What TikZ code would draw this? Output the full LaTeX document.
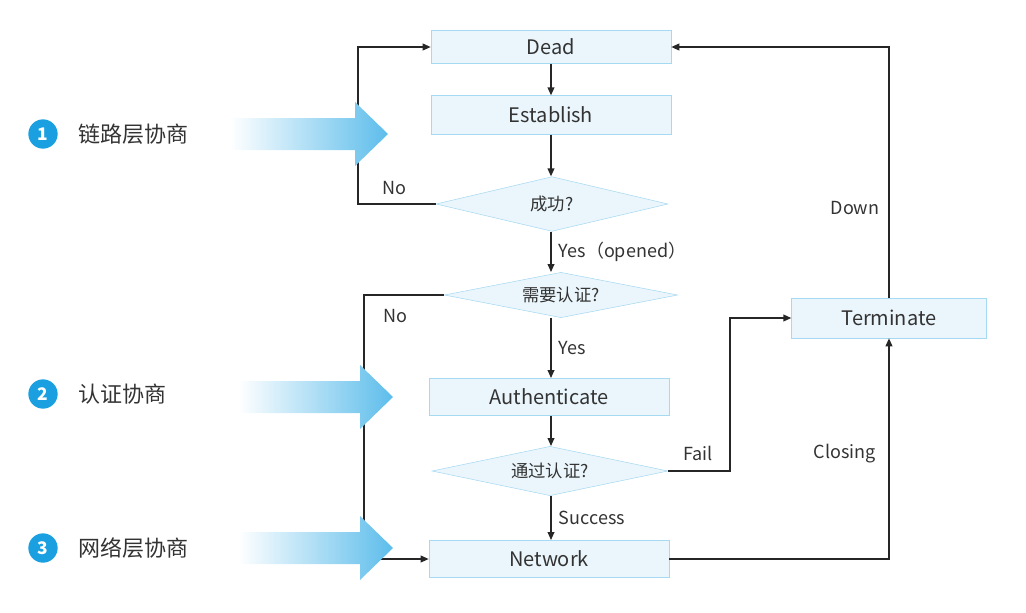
\documentclass[tikz,border=0pt]{standalone}
\usepackage{fontspec}
\setmainfont{Noto Sans CJK SC}
\usetikzlibrary{shapes.geometric,arrows.meta}
\definecolor{boxfill}{HTML}{EAF6FC}
\definecolor{boxline}{HTML}{A6D9F2}
\definecolor{arrblue}{HTML}{5DBDEB}
\definecolor{numblue}{HTML}{1AA0E0}
\definecolor{txt}{HTML}{333333}
\begin{document}
\begin{tikzpicture}[x=0.75pt,y=-0.75pt,
  box/.style={draw=boxline,fill=boxfill,minimum width=180pt,text=txt,font=\fontsize{15}{15}\selectfont},
  dia/.style={diamond,draw=boxline,fill=boxfill,aspect=5,inner sep=1pt,text=txt,font=\fontsize{13}{13}\selectfont},
  con/.style={draw=black!85,line width=1.2pt},
  arr/.style={con,-{Triangle[length=6pt,width=5pt]}},
  lbl/.style={text=txt,font=\fontsize{13.5}{13.5}\selectfont},
  big/.style={left color=white,right color=arrblue,draw=none},
  num/.style={circle,fill=numblue,text=white,minimum size=22pt,inner sep=0pt,font=\bfseries\fontsize{13}{13}\selectfont},
  side/.style={anchor=west,text=txt,font=\fontsize{16.5}{16.5}\selectfont}]
\useasboundingbox (0,0) rectangle (1026,612);
\node[num] (n1) at (43,134) {1};
\node[num] (n2) at (43,394) {2};
\node[num] (n3) at (43,548) {3};
\node[side] (t1) at (74,134) {链路层协商};
\node[side] (t2) at (74,394) {认证协商};
\node[side] (t3) at (74,548) {网络层协商};
% nodes
\node[box,minimum height=25pt] (dead) at (551,47) {Dead};
\node[box,minimum height=29pt] (est) at (551,115) {Establish};
\node[dia,minimum width=174pt,minimum height=41pt] (d1) at (552,204) {成功?};
\node[dia,minimum width=175pt,minimum height=34pt] (d2) at (561,295) {需要认证?};
\node[box,minimum height=28pt] (auth) at (549,397) {Authenticate};
\node[dia,minimum width=177pt,minimum height=37pt] (d3) at (550,471) {通过认证?};
\node[box,minimum height=28pt] (net) at (549,559) {Network};
\node[box,minimum width=146pt,minimum height=30pt] (term) at (889,318) {Terminate};
% vertical flow
\draw[arr] (dead) -- (est);
\draw[arr] (est.south -| dead) -- (d1.north -| dead);
\draw[arr] (d1.south -| dead) -- node[lbl,right,xshift=2pt]{Yes（opened）} (d2.north -| dead);
\draw[arr] (d2.south -| dead) -- node[lbl,right,xshift=2pt]{Yes} (auth.north -| dead);
\draw[arr] (auth.south -| dead) -- (d3.north -| dead);
\draw[arr] (d3.south -| dead) -- node[lbl,right,xshift=2pt]{Success} (net.north -| dead);
% loops
\coordinate (a1) at (358,204);
\coordinate (a2) at (358,47);
\draw[arr] (d1.west) -- (a1) -- (a2) -- (dead.west);
\node[lbl] (no1) at (394,188) {No};
\coordinate (b1) at (364,295);
\coordinate (b2) at (364,559);
\draw[arr] (d2.west) -- (b1) -- (b2) -- (net.west);
\node[lbl] (no2) at (395,316) {No};
\coordinate (c1) at (730,471);
\coordinate (c2) at (730,318);
\draw[arr] (d3.east) -- (c1) -- (c2) -- (term.west);
\node[lbl] (fail) at (698,453) {Fail};
\coordinate (e1) at (889,559);
\draw[arr] (net.east) -- (e1) -- (term.south);
\node[lbl] (clo) at (845,454) {Closing};
\coordinate (f1) at (889,47);
\draw[arr] (term.north) -- (f1) -- (dead.east);
\node[lbl] (down) at (855,208) {Down};
% big arrows (over the lines)
\shade[big] (230,118)--(355,118)--(355,102)--(388,134)--(355,166)--(355,150)--(230,150)--cycle;
\shade[big] (238,381)--(360,381)--(360,365)--(393,397)--(360,429)--(360,413)--(238,413)--cycle;
\shade[big] (238,532)--(360,532)--(360,516)--(393,548)--(360,580)--(360,564)--(238,564)--cycle;
\end{tikzpicture}
\end{document}
